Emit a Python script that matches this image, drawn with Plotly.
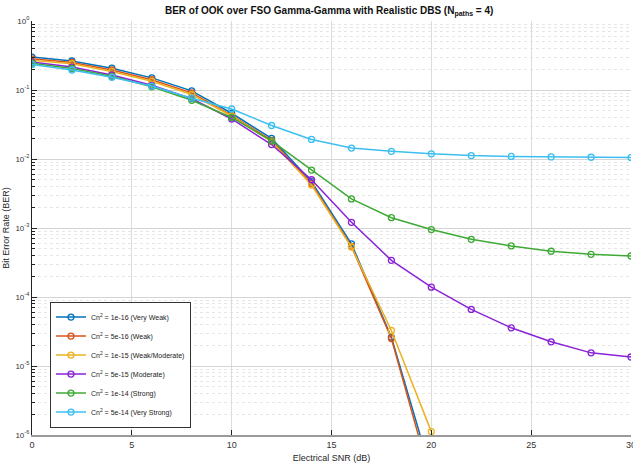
import plotly.graph_objects as go

snr = [0, 2, 4, 6, 8, 10, 12, 14, 16, 18, 20, 22, 24, 26, 28, 30]

names = [
    "Cn<sup>2</sup> = 1e-16 (Very Weak)",
    "Cn<sup>2</sup> = 5e-16 (Weak)",
    "Cn<sup>2</sup> = 1e-15 (Weak/Moderate)",
    "Cn<sup>2</sup> = 5e-15 (Moderate)",
    "Cn<sup>2</sup> = 1e-14 (Strong)",
    "Cn<sup>2</sup> = 5e-14 (Very Strong)",
]

ber_very_weak = [0.300, 0.263, 0.207, 0.150, 0.097, 0.046, 0.0199, 0.0047, 5.9e-4, 2.6e-5, 2.8e-7,
                 None, None, None, None, None]
ber_weak = [0.283, 0.251, 0.195, 0.141, 0.091, 0.043, 0.0186, 0.0044, 5.4e-4, 2.5e-5, 2.1e-7,
            None, None, None, None, None]
ber_weak_mod = [0.270, 0.240, 0.186, 0.134, 0.086, 0.042, 0.0178, 0.0042, 5.3e-4, 3.27e-5, 1.12e-6,
                None, None, None, None, None]
ber_moderate = [0.255, 0.215, 0.165, 0.117, 0.075, 0.038, 0.0162, 0.0050, 1.21e-3, 3.4e-4, 1.39e-4,
                6.6e-5, 3.58e-5, 2.24e-5, 1.55e-5, 1.35e-5]
ber_strong = [0.245, 0.205, 0.158, 0.111, 0.071, 0.040, 0.0183, 0.0069, 2.64e-3, 1.41e-3, 9.5e-4,
              6.85e-4, 5.5e-4, 4.6e-4, 4.16e-4, 3.93e-4]
ber_very_strong = [0.235, 0.195, 0.153, 0.114, 0.076, 0.053, 0.0306, 0.0192, 0.0144, 0.0129, 0.0119,
                   0.0112, 0.0109, 0.0107, 0.0106, 0.0105]

series = [ber_very_weak, ber_weak, ber_weak_mod, ber_moderate, ber_strong, ber_very_strong]
colors = ["#0072BD", "#D95319", "#EDB120", "#8A22D8", "#3EAA35", "#3CBFF0"]

x_ticks = [0, 5, 10, 15, 20, 25, 30]
y_ticks = [1e-6, 1e-5, 1e-4, 1e-3, 1e-2, 1e-1, 1e0]
y_ticktext = ["10<sup>-6</sup>", "10<sup>-5</sup>", "10<sup>-4</sup>", "10<sup>-3</sup>",
              "10<sup>-2</sup>", "10<sup>-1</sup>", "10<sup>0</sup>"]
y_minor = [k * 10.0 ** e for e in range(-6, 0) for k in range(2, 10)]

FONT = "Liberation Sans Narrow, Liberation Sans, Arial"

fig = go.Figure()
for name, vals, col in zip(names, series, colors):
    fig.add_trace(go.Scatter(
        x=snr, y=vals, name=name, mode="lines+markers",
        line=dict(color=col, width=1.5),
        marker=dict(symbol="circle-open", size=6, color=col, line=dict(width=1.3, color=col)),
        connectgaps=False,
    ))

fig.update_layout(
    width=633, height=468,
    margin=dict(l=32, r=2, t=21, b=33, autoexpand=False),
    paper_bgcolor="white", plot_bgcolor="white",
    font=dict(family=FONT, size=9, color="#262626"),
    title=dict(text="<b>BER of OOK over FSO Gamma-Gamma with Realistic DBS (N<sub>paths</sub> = 4)</b>",
               x=0.52, xanchor="center", y=0.985, yanchor="top",
               font=dict(family=FONT, size=10, color="#111111")),
    showlegend=True,
    legend=dict(x=0.03, y=0.018, xanchor="left", yanchor="bottom",
                bgcolor="white", bordercolor="#333333", borderwidth=1,
                font=dict(family=FONT, size=7, color="#222222"),
                tracegroupgap=0, itemwidth=30),
)

fig.update_xaxes(
    range=[0, 30], tickvals=x_ticks, ticktext=[str(v) for v in x_ticks],
    ticklabeloverflow="allow", automargin=False,
    showgrid=True, gridcolor="#DCDCDC", gridwidth=1,
    showline=True, linecolor="#9A9A9A", linewidth=1.5, mirror=False,
    ticks="inside", ticklen=5, tickcolor="#222222",
    zeroline=False,
    title=dict(text="Electrical SNR (dB)", font=dict(family=FONT, size=9, color="#262626"), standoff=6),
    tickfont=dict(family=FONT, size=9, color="#333333"),
)
fig.update_yaxes(
    type="log", range=[-6, 0], tickvals=y_ticks, ticktext=y_ticktext,
    automargin=False,
    showgrid=True, gridcolor="#D4D4D4", gridwidth=1,
    showline=True, linecolor="#222222", linewidth=1.2,
    ticks="inside", ticklen=5, tickcolor="#222222",
    minor=dict(tickvals=y_minor, showgrid=True, gridcolor="#E6E6E6", griddash="dot",
               ticks="inside", ticklen=3, tickcolor="#222222"),
    zeroline=False,
    title=dict(text="Bit Error Rate (BER)", font=dict(family=FONT, size=9, color="#262626"), standoff=4),
    tickfont=dict(family=FONT, size=8, color="#333333"),
)

fig.write_html("out.html")
